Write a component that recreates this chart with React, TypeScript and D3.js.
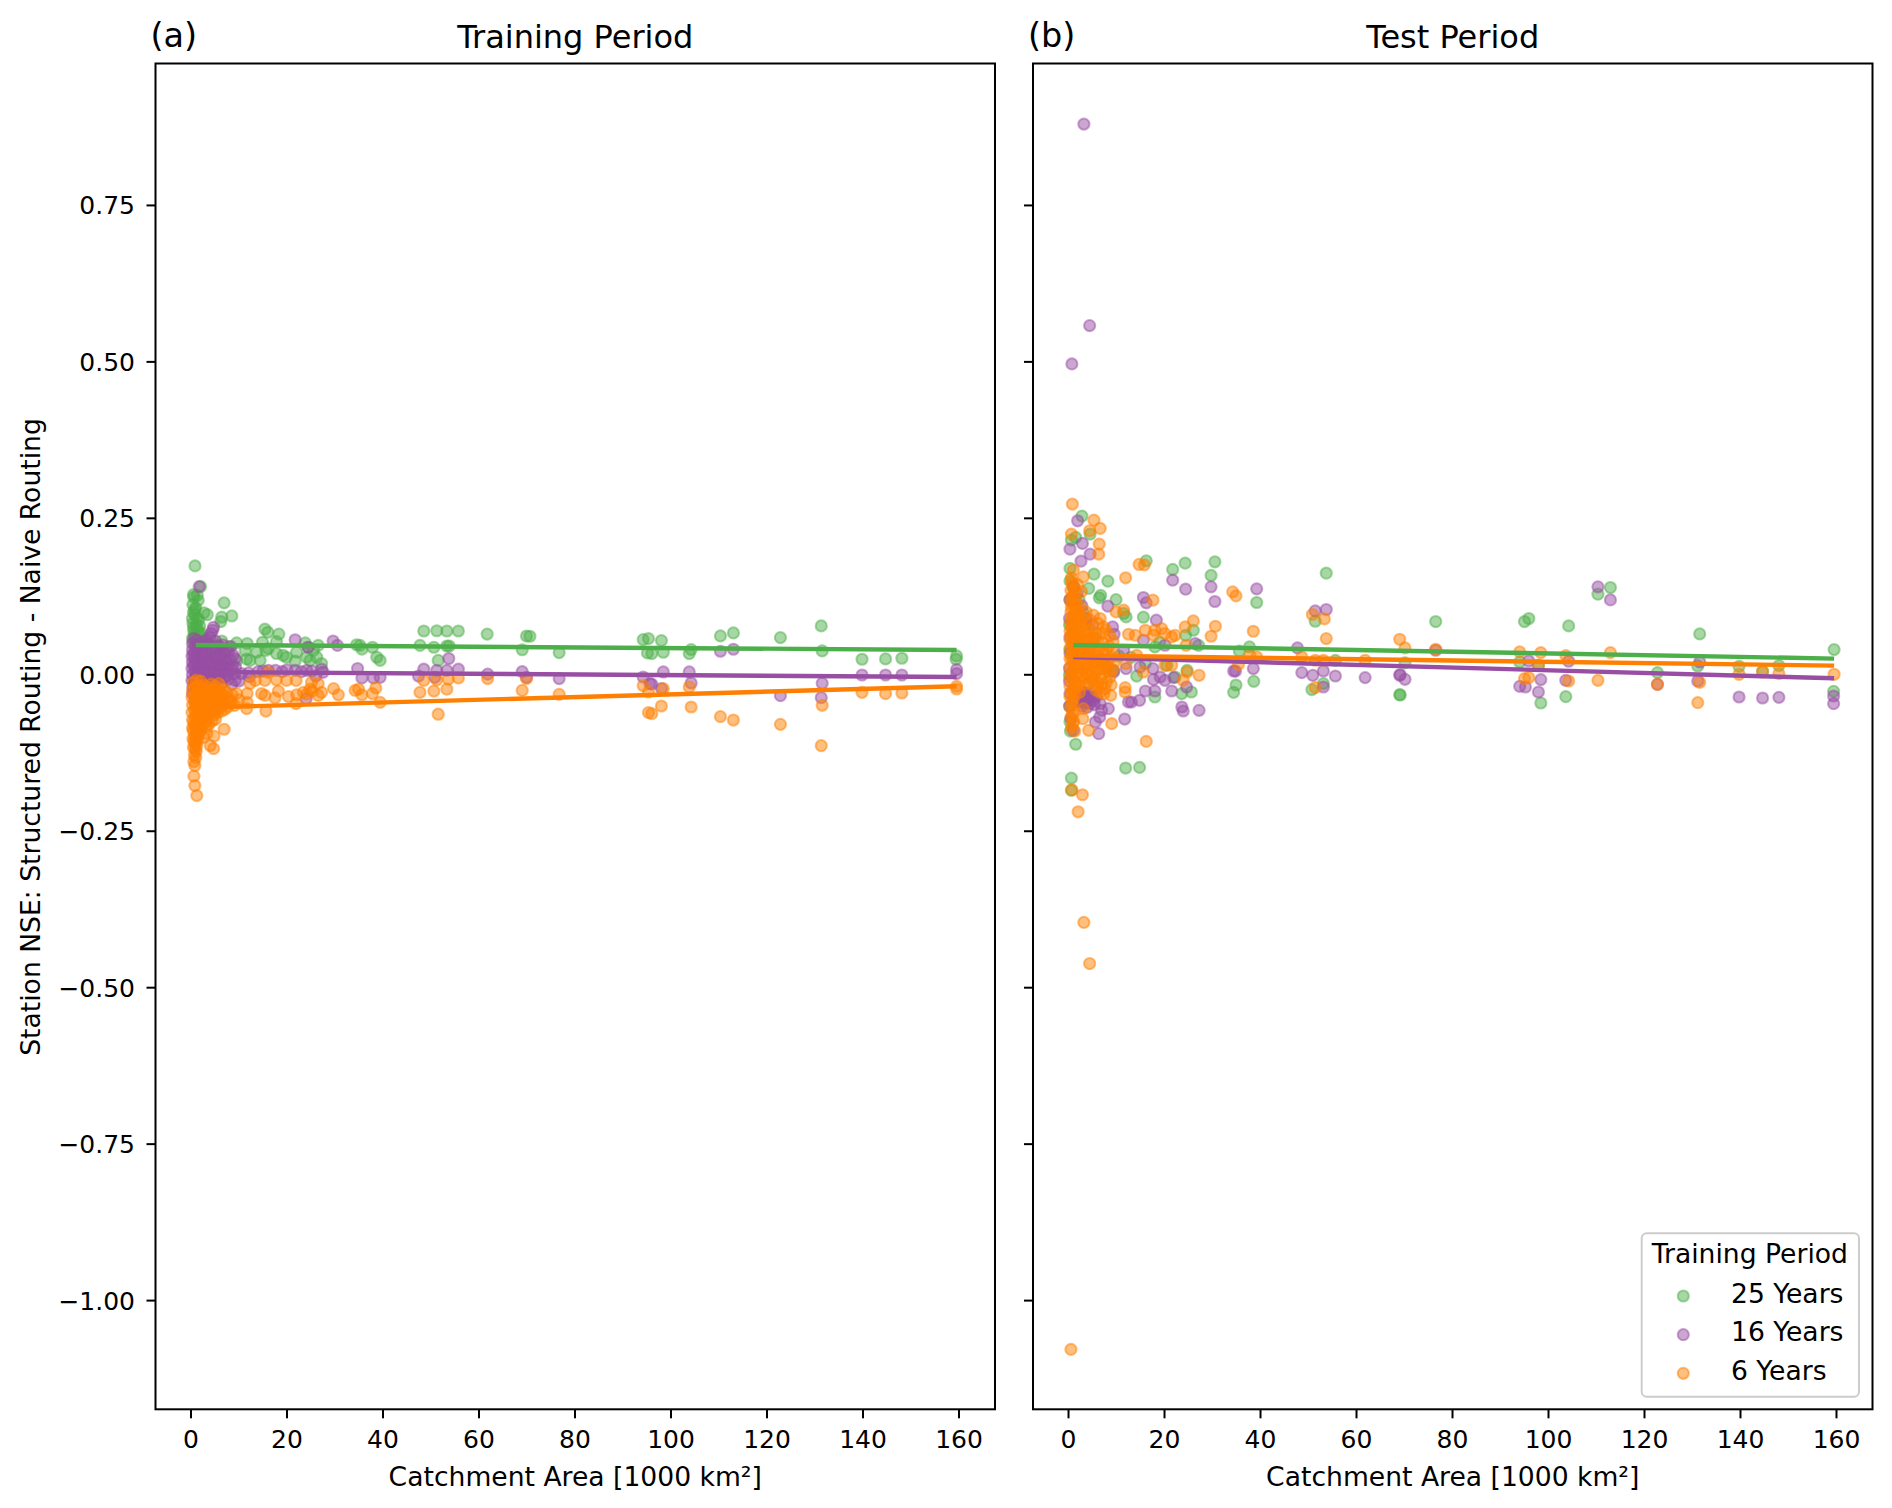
import React from "react";
import * as d3 from "d3";

type Pt = [number, number];

const xTicks = [0, 20, 40, 60, 80, 100, 120, 140, 160];
const yTicks = [0.75, 0.5, 0.25, 0, -0.25, -0.5, -0.75, -1];
const seriesNames = ["25 Years", "16 Years", "6 Years"];
const seriesColors = ["#4daf4a", "#984ea3", "#ff7f00"];

const greenTrain: Pt[] = [
  [.83,.174],[2,.141],[.5,.128],[1.3,.127],[.6,.124],[1.5,.119],[6.9,.115],[.8,.104],[2.7,.099],[3.4,.096],[8.5,.094],[6.4,.092],[6.2,.085],
  [.5,.1],[.8,.096],[1.2,.09],[.4,.112],[1,.107],[1.6,.088],[.3,.09],[.4,.082],[.5,.075],[.6,.07],[.7,.065],[.9,.06],[.3,.058],[1.1,.08],[1.3,.074],[1.5,.069],[1.8,.078],[2.1,.066],[2.4,.06],[2.6,.055],[3,.05],[.6,.052],[1.4,.05],[2,.046],[3.5,.045],[4.2,.04],[5,.03],[6.2,.035],[7,.02],[8,.045],[6,.015],[3.8,.02],[5.5,.048],
  [15.4,.073],[16,.068],[18.3,.065],[9.5,.051],[11.7,.05],[14.9,.052],[17.8,.053],[6.4,.054],[23.8,.051],[26.5,.047],[24.4,.044],
  [11.3,.039],[13.7,.036],[15.6,.039],[22,.036],[17.8,.034],[19.2,.031],[19.9,.028],[12.3,.023],[11.6,.025],[14.4,.023],[21.7,.022],[24.1,.028],[26.2,.028],[27.2,.018],[24.8,.023],[9.5,.023],[16.1,.042],[25.5,.039],
  [34.5,.048],[35.2,.047],[35.6,.041],[37.8,.044],[38.7,.028],[39.4,.023],[48.5,.07],[51.2,.0704],[53.3,.07],[55.7,.07],[47.7,.047],[50.6,.044],[53.3,.046],[53.8,.046],[51.5,.023],[61.7,.065],[69,.04],[69.9,.062],
  [70.6,.0616],[76.7,.0355],[94.2,.0563],[95.3,.0579],[95.1,.0349],[96,.0339],[98,.0547],[98.4,.036],[103.8,.0339],[104.2,.0403],[110.3,.0621],[113,.0669],[122.8,.0595],[131.3,.0781],[131.5,.0381],[139.8,.0248],[144.7,.0253],[148.1,.0264],[159.5,.0301],[159.4,.0248],
];
const purpleTrain: Pt[] = [
  [1.7,.141],[4.7,.076],[4.2,.066],[4.5,.071],[3.9,.06],[.6,.058],[1.2,.055],[2.3,.052],[3.2,.056],[5.1,.054],[.3,.05],[.9,.047],[1.7,.048],[2.8,.046],[3.7,.049],[4.6,.045],[5.8,.046],[6.6,.048],[7.4,.041],[8.3,.045],[.3,.04],[.8,.037],[1.5,.039],[2.2,.036],[3.1,.038],[4.1,.035],[5.2,.037],[6.1,.033],[7,.034],[7.8,.037],[8.8,.031],
  [.2,.03],[.7,.027],[1.3,.029],[2,.026],[2.7,.028],[3.5,.025],[4.4,.027],[5.6,.024],[6.5,.026],[7.3,.022],[8.2,.024],[9.2,.026],[.3,.02],[.9,.017],[1.6,.019],[2.4,.016],[3.3,.018],[4,.015],[4.9,.017],[5.9,.014],[6.8,.016],[7.7,.013],[8.7,.015],[.2,.01],[.8,.007],[1.4,.009],[2.1,.006],[2.9,.008],[3.7,.005],[4.6,.007],[5.4,.004],[6.3,.006],[7.2,.003],[8,.005],[9.1,.002],[.3,0],[1,-.003],[1.8,-.001],[2.6,-.004],[3.4,-.002],[4.3,-.005],[5.1,-.003],[6,-.006],[6.9,-.004],[7.8,-.007],[.2,-.009],[.7,-.012],[1.5,-.01],[2.3,-.013],[3.1,-.011],[4.8,-.012],[6.4,-.014],[8.5,-.015],[9.2,-.009],[10,-.01],[.4,-.019],[1.2,-.021],[.3,-.03],[.8,-.042],
  [.5,.033],[1.1,.022],[1.9,.012],[2.5,.031],[3.8,.021],[4.7,.012],[5.5,.029],[6.9,.009],[.5,.015],[1.2,.002],[3,.002],[4.1,.001],[5.7,.001],[8.4,.009],[7.5,-.001],[9.3,.012],
  [21.7,.056],[24.4,.044],[29.6,.054],[30.5,.047],[16.1,.007],[17.6,.007],[21.7,.007],[24.1,.007],[25.2,.006],[27.2,.009],[10.5,.002],[12,.003],[14,.005],[12.2,-.003],[15,.006],[19,.005],[20,.008],[23,.005],[26,-.002],[27.5,.004],[24,-.038],
  [34.7,.01],[35.6,-.005],[38,-.005],[39.4,-.004],[48.5,.009],[47.4,-.002],[51.2,.007],[50.8,-.004],[53.7,.026],[53.3,.007],[55.7,.009],[61.8,.001],[69,.005],[69.9,-.004],
  [76.7,-.0061],[94.2,-.0035],[95.6,-.0141],[96,-.015],[98.4,.0045],[98,-.0221],[103.8,.0045],[104.2,-.0131],[110.3,.0376],[113,.0408],[122.8,-.0333],[131.5,-.0136],[131.3,-.0365],[139.8,-.0003],[144.7,-.0003],[148.1,-.0003],[159.5,.0083],[159.5,.0019],
];
const orangeTrain: Pt[] = [
  [1.2,-.193],[.8,-.177],[.6,-.162],[.8,-.145],[.6,-.139],[1,-.132],[.7,-.128],[1.1,-.122],[.5,-.116],[.9,-.11],[1.4,-.105],[.4,-.102],[.8,-.097],[1.3,-.092],[1.8,-.09],[4.7,-.118],[4,-.113],[6.9,-.087],[4.8,-.098],[3.3,-.094],[2.6,-.1],
  [.3,-.085],[.7,-.081],[1.2,-.078],[1.8,-.083],[2.4,-.079],[3,-.076],[3.7,-.08],[4.4,-.074],[5.1,-.071],[.3,-.072],[.8,-.068],[1.4,-.066],[2,-.07],[2.7,-.065],[3.4,-.067],[4.1,-.062],[4.9,-.064],[5.6,-.06],[6.4,-.058],[7.1,-.055],[.2,-.06],[.7,-.056],[1.3,-.054],[1.9,-.058],[2.5,-.053],[3.2,-.055],[3.9,-.05],[4.6,-.052],[5.4,-.048],[6.1,-.05],[6.9,-.046],[7.7,-.051],[8.5,-.044],[9.1,-.049],
  [.3,-.048],[.8,-.044],[1.4,-.042],[2,-.046],[2.6,-.041],[3.3,-.043],[4,-.038],[4.8,-.04],[5.5,-.036],[6.3,-.038],[7,-.034],[7.8,-.037],[8.6,-.032],[.2,-.036],[.7,-.032],[1.3,-.03],[1.9,-.034],[2.5,-.029],[3.2,-.031],[3.9,-.026],[4.6,-.028],[5.3,-.024],[6.1,-.027],[6.9,-.023],[.3,-.024],[.8,-.02],[1.4,-.018],[2,-.022],[2.7,-.017],[3.4,-.02],[4.2,-.015],[5,-.018],[5.8,-.014],[.5,-.012],[1.2,-.008],[2,-.01],
  [.5,-.09],[1,-.101],[.6,-.107],[1.2,-.113],[.9,-.119],[1.5,-.097],[2.1,-.088],[1.1,-.086],[.6,-.076],[1.6,-.074],[2.3,-.071],[3.2,-.083],[1,-.064],[1.7,-.062],[2.3,-.06],[3,-.062],[3.6,-.058],[4.4,-.058],[5.2,-.055],[1,-.05],[1.6,-.049],[2.2,-.05],[2.9,-.048],[3.6,-.045],[4.3,-.046],[5,-.044],[5.8,-.043],[6.5,-.044],[1.1,-.037],[1.7,-.038],[2.3,-.037],[3,-.036],[3.6,-.034],[4.3,-.034],[5,-.032],[5.8,-.031],[6.5,-.031],[7.4,-.028],[8.1,-.042],
  [15.6,-.058],[11.6,-.054],[11.7,-.044],[21.9,-.046],[20.3,-.035],[17.5,-.037],[18.2,-.026],[15.4,-.033],[14.7,-.03],[11.7,-.03],[29.7,-.022],[30.7,-.032],[27.2,-.028],[26.5,-.033],[23.4,-.028],[24.8,-.023],[24.1,-.031],[22,-.032],[25.2,-.026],[19.9,-.009],[17.8,-.008],[15.4,-.009],[16.1,.004],[12.3,-.014],[13.4,-.009],[21.9,-.009],[25.1,-.012],[26.5,-.014],[10,-.04],[9.5,-.03],
  [34.2,-.025],[34.9,-.023],[35.6,-.032],[37.8,-.03],[38.5,-.021],[39.4,-.044],[47.7,-.028],[50.6,-.026],[53.3,-.023],[51.5,-.063],[48.5,-.009],[51.2,-.008],[53.6,-.007],[55.7,-.005],[61.8,-.006],[69,-.025],[69.9,-.006],
  [76.7,-.0312],[94.2,-.0173],[95.3,-.0605],[96,-.0621],[95.3,-.0275],[98.4,-.0221],[98,-.0499],[103.8,-.0195],[104.2,-.0515],[110.3,-.0669],[113,-.0723],[122.8,-.0792],[131.3,-.1133],[131.5,-.0488],[139.8,-.028],[144.7,-.0301],[148.1,-.0291],[159.5,-.0184],[159.5,-.0227],
];

const greenTest: Pt[] = [
  [2.8,.2536],[4.5,.2248],[1.5,.2195],[.6,.2152],[16.2,.1821],[24.3,.1784],[30.5,.1805],[21.7,.1683],[29.7,.1587],[5.3,.1608],[8.2,.1496],[53.7,.1624],[39.2,.1155],[4.2,.138],[6.7,.127],[6.4,.123],[9.9,.12],[12,.0925],[11.5,.098],[15.6,.092],[26,.0712],[24.4,.063],[51.4,.0856],[76.5,.0851],[35.6,.038],[37.7,.0445],[55.6,.023],[70.1,.019],[38.6,-.0104],[34.9,-.0163],[34.4,-.028],[50.7,-.0237],[53.1,-.014],[69,-.0317],[14.2,-.002],[18,-.0355],[23.6,-.03],[25.6,-.0275],[22.2,-.0035],[24.7,.007],[27.1,.047],[18,.0445],[9.4,.007],[1.5,-.111],[11.9,-.149],[14.8,-.148],[.6,-.165],[.6,-.1848],
  [.3,.17],[.3,.15],[.3,.12],[.2,.08],[.3,.04],[.2,0],[.3,-.05],[.3,-.075],[.4,-.09],[1,.14],[2.2,.12],[3,.1],[3.6,.08],[2.4,.06],[4.2,.04],[5.6,.06],[6.8,.02],[5,-.01],[7.9,.01],[10.5,.03],[13,.028],[16,.018],[20.5,.015],[19,.052],
  [95,.0851],[95.9,.0899],[104.2,.0781],[110.3,.1288],[112.9,.1395],[122.7,.0035],[131.5,.0653],[131.1,.0141],[139.7,.0136],[144.6,.0056],[148,.0147],[159.5,.0403],[159.4,-.0264],[103.6,-.0349],[98.4,-.0451],[94,.0205],[97.9,.0152],[69.1,-.0323],
];
const purpleTest: Pt[] = [
  [3.2,.88],[.7,.4968],[4.4,.558],[1.9,.2461],[2.9,.2099],[.3,.2008],[4.5,.1928],[2.6,.1816],[21.7,.1512],[24.4,.1368],[29.7,.1405],[39.2,.1373],[30.5,.1171],[15.6,.1235],[16.2,.115],[8.2,.1096],[51.4,.102],[53.7,.1043],[18.3,.0872],[9.2,.0765],[9.5,.0648],[15.6,.0552],[20.1,.0472],[11.5,.0392],[47.7,.0429],[26.4,.0499],[14.9,.0125],[17.6,.0099],[12,.0099],[9.4,.0045],[17.7,-.0077],[19.1,-.0035],[20.1,-.0088],[21.9,-.0045],[24.6,-.0195],[34.4,.0061],[34.8,.006],[38.5,.0099],[48.6,.0035],[50.9,-.0008],[53.1,.0061],[53.1,-.0195],[55.6,-.0019],[61.8,-.0045],[69,-.0008],[16,-.0259],[18,-.0259],[21.5,-.0259],[12.5,-.0435],[13.1,-.0435],[14.8,-.0408],[23.6,-.0515],[23.9,-.0579],[27.2,-.0568],[11.7,-.0707],[6.3,-.0941],[1,-.0888],[5.6,-.0755],[6.5,-.0675],[8.3,-.0541],[6.6,-.046],[6.9,-.0568],
  [4.2,-.0355],[3.1,-.03],[5.2,-.041],[4.5,-.046],[2.5,-.035],[3.6,-.044],[2.9,-.05],[3.9,-.052],[4.7,-.03],[3.3,-.039],[2.2,-.042],[5.8,-.035],[3.7,-.028],[4.3,-.04],[3.1,-.045],[4.9,-.036],[2.7,-.027],[5.4,-.048],[.2,-.05],[.3,-.03],[.2,-.01],[.2,.01],[.3,.035],[.3,.06],[.2,.09],[.3,.12],[1.1,.14],[1.8,.13],[2.8,.11],[3.7,.09],[5,.08],[.5,-.07],
  [76.5,.0392],[69.1,.0003],[70.1,-.0072],[94,-.0184],[95.2,-.0195],[95.9,.0221],[98.4,-.0077],[97.9,-.0275],[103.6,-.0088],[104.2,.0216],[110.3,.1405],[112.9,.1197],[122.7,-.0152],[131.1,-.0099],[131.5,.0205],[139.7,-.0355],[144.6,-.0371],[148,-.036],[159.4,-.0339],[159.4,-.0461],
];
const orangeTest: Pt[] = [
  [.5,-1.078],[3.2,-.3957],[4.4,-.4614],[.8,.2728],[5.3,.2472],[6.6,.2339],[4.4,.2301],[.6,.2248],[6.4,.2088],[6.3,.1928],[11.9,.155],[14.7,.1763],[15.8,.1757],[1,.1672],[3.1,.1565],[17.6,.1192],[34.2,.1325],[34.9,.1261],[11.5,.1032],[9.9,.1005],[26,.0861],[24.3,.0765],[30.6,.0776],[29.7,.0616],[38.5,.0696],[50.8,.0963],[53.3,.0893],[53.7,.0579],[69,.0568],[70.1,.0429],[76.5,.0408],[18,.0712],[19.4,.0739],[16,.0712],[20.1,.0659],[17.7,.0632],[22.2,.0632],[21.5,.0605],[12.5,.0648],[13.9,.0632],[5.2,.0952],[6.6,.0899],[4.5,.0872],[7.3,.0765],[24.5,.0472],[14.2,.0312],[37.8,.0312],[39.2,.0285],[48.6,.0285],[51.4,.0232],[53.1,.0232],[61.8,.0232],[20.1,.0152],[21.5,.0152],[12,.0179],[35.4,.0168],[27.2,-.0008],[24.7,.0045],[23.9,-.0088],[15.6,.0045],[11.8,-.0205],[11.8,-.0275],[8.8,-.0328],[51.4,-.0205],[3.1,-.0541],[3,-.0701],[4.2,-.0888],[9,-.0781],[16.2,-.1064],[.7,-.1837],[2.9,-.1917],[2,-.2189],
  [.6,.155],[.9,.145],[.5,.135],[1.1,.128],[.4,.118],[.9,.112],[1.6,.108],[.5,.1],[1.2,.095],[2.1,.1],[2.8,.09],[.4,.085],[1,.08],[1.7,.084],[2.5,.078],[3.4,.082],[.3,.07],[.9,.066],[1.5,.071],[2.2,.064],[3,.068],[3.9,.063],[4.8,.07],[5.6,.066],[.3,.056],[.8,.052],[1.4,.058],[2.1,.05],[2.9,.054],[3.7,.048],[4.5,.055],[5.3,.05],[6.1,.056],[7,.052],[.3,.042],[.9,.038],[1.6,.044],[2.3,.036],[3.1,.04],[3.9,.034],[4.7,.042],[5.5,.036],[6.4,.041],[7.2,.035],[8,.04],[.3,.026],[.9,.022],[1.6,.028],[2.4,.02],[3.2,.025],[4,.018],[4.8,.024],[5.7,.019],[6.5,.023],[7.4,.017],[8.2,.022],[.3,.012],[.9,.008],[1.6,.013],[2.3,.005],[3.1,.01],[3.9,.003],[4.8,.009],[5.6,.004],[6.4,.008],[7.2,.001],[.3,-.004],[.9,-.008],[1.7,-.002],[2.5,-.011],[3.4,-.005],[4.3,-.012],[5.2,-.007],[6.1,-.013],[6.9,-.018],[.3,-.018],[.9,-.024],[1.6,-.02],[2.3,-.028],[.3,-.035],[1,-.04],[.4,-.052],[1.2,-.058],[.5,-.068],[1.1,-.075],[.6,-.085],[1.3,-.09],[7.4,-.03],[5.8,-.025],[6.6,-.028],
  [.7,.148],[1.3,.134],[.8,.125],[1.5,.118],[.6,.108],[1.4,.102],[.8,.09],[1.7,.093],[.6,.076],[1.3,.064],[2.3,.085],[.6,.063],[1.1,.048],[1.8,.037],[2.6,.045],[3.4,.055],[4.2,.072],[5,.06],[.6,.03],[1.2,.016],[2,.012],[2.8,.032],[3.5,.016],[4.4,.03],[5.1,.014],[6,.03],[7,.011],[.6,.002],[1.3,-.012],[2,-.018],[2.9,-.002],[3.8,-.015],[4.7,-.001],[5.5,-.016],[6.7,-.006],[.6,-.028],[1.3,-.032],[.7,-.045],[.8,-.062],[.9,-.078],[8.4,.006],
  [7.8,.072],[8.6,.063],[9.3,.054],[8.4,.046],[9.1,.037],[8.8,.028],[9.5,.019],[8.1,.013],[9.2,.008],[8.6,-.004],[7.9,-.012],[8.9,-.016],[7.6,-.022],[6.2,.082],[7.1,.066],[3.7,.1],[2.4,.11],[2.7,.133],[1.9,.144],
  [95,-.0061],[95.9,-.0045],[94,.0365],[98.4,.0355],[97.9,.0152],[103.6,.0307],[104.2,-.0099],[110.3,-.0088],[112.9,.0355],[122.7,-.0152],[131.5,-.012],[131.1,-.0445],[139.7,.0008],[144.6,.0045],[148,.0019],[159.5,.0008],
];

const trainLines: Pt[][] = [
  [[1, .0477], [159.5, .0397]],
  [[1, .0045], [159.5, -.0035]],
  [[1, -.0527], [159.5, -.0184]],
];
const testLines: Pt[][] = [
  [[1, .0477], [159.5, .0259]],
  [[1, .0285], [159.5, -.0056]],
  [[1, .031], [159.5, .0147]],
];

const panelsMeta = [
  { left: 155.5, tag: "(a)", title: "Training Period", pts: [greenTrain, purpleTrain, orangeTrain], lines: trainLines, labels: true },
  { left: 1033, tag: "(b)", title: "Test Period", pts: [greenTest, purpleTest, orangeTest], lines: testLines, labels: false },
];

const W = 839.5, TOP = 63.5, BOTTOM = 1409.3, R = 5.6, SW = 2;
const fmt = (v: number) => (v < 0 ? "\u2212" : "") + Math.abs(v).toFixed(2);
const font = "'DejaVu Sans', sans-serif";

function Dot({ cx, cy, c }: { cx: number; cy: number; c: string }) {
  return <circle cx={cx} cy={cy} r={R} fill={c} fillOpacity={0.5} stroke={c} strokeOpacity={0.5} strokeWidth={SW} />;
}

function Panel({ meta }: { meta: (typeof panelsMeta)[number] }) {
  const x = d3.scaleLinear().domain([-7.4, 167.5]).range([meta.left, meta.left + W]);
  const y = d3.scaleLinear().domain([0.9768, -1.1737]).range([TOP, BOTTOM]);
  const line = d3.line<Pt>().x((d) => x(d[0])).y((d) => y(d[1]));
  const mid = meta.left + W / 2;
  return (
    <g fontFamily={font} fill="#000">
      {meta.pts.map((s, i) => (
        <g key={i}>{s.map((d, j) => <Dot key={j} cx={x(d[0])} cy={y(d[1])} c={seriesColors[i]} />)}</g>
      ))}
      {meta.lines.map((l, i) => (
        <path key={i} d={line(l) ?? ""} fill="none" stroke={seriesColors[i]} strokeWidth={4.4} />
      ))}
      <rect x={meta.left} y={TOP} width={W} height={BOTTOM - TOP} fill="none" stroke="#000" strokeWidth={2} />
      {xTicks.map((t) => (
        <g key={t}>
          <line x1={x(t)} x2={x(t)} y1={BOTTOM} y2={BOTTOM + 9} stroke="#000" strokeWidth={2} />
          <text x={x(t)} y={1447.5} fontSize={25} textAnchor="middle">{t}</text>
        </g>
      ))}
      {yTicks.map((t) => (
        <g key={t}>
          <line x1={meta.left - 9} x2={meta.left} y1={y(t)} y2={y(t)} stroke="#000" strokeWidth={2} />
          {meta.labels && <text x={meta.left - 20.5} y={y(t) + 9} fontSize={25} textAnchor="end">{fmt(t)}</text>}
        </g>
      ))}
      <text x={mid} y={47.5} fontSize={32} textAnchor="middle">{meta.title}</text>
      <text x={meta.left - 5} y={46.5} fontSize={33.5}>{meta.tag}</text>
      <text x={mid} y={1485.5} fontSize={26.6} textAnchor="middle">Catchment Area [1000 km²]</text>
    </g>
  );
}

export default function App() {
  const legendY = [1296, 1334.7, 1373.3];
  return (
    <svg width={1892} height={1508} viewBox="0 0 1892 1508" style={{ position: "absolute", left: 0, top: 0, display: "block", background: "#fff" }}>
      {panelsMeta.map((m) => <Panel key={m.tag} meta={m} />)}
      <text transform="translate(31,737) rotate(-90)" fontFamily={font} fontSize={26.6} textAnchor="middle" dy="0.35em">
        Station NSE: Structured Routing - Naive Routing
      </text>
      <g fontFamily={font} fill="#000">
        <rect x={1641.7} y={1233.3} width={217.3} height={163.4} rx={5} fill="#fff" fillOpacity={0.8} stroke="#ccc" strokeWidth={2} />
        <text x={1749.8} y={1263.3} fontSize={26.6} textAnchor="middle">Training Period</text>
        {seriesNames.map((n, i) => (
          <g key={n}>
            <Dot cx={1683.3} cy={legendY[i]} c={seriesColors[i]} />
            <text x={1731} y={legendY[i] + 6.5} fontSize={26.6}>{n}</text>
          </g>
        ))}
      </g>
    </svg>
  );
}
